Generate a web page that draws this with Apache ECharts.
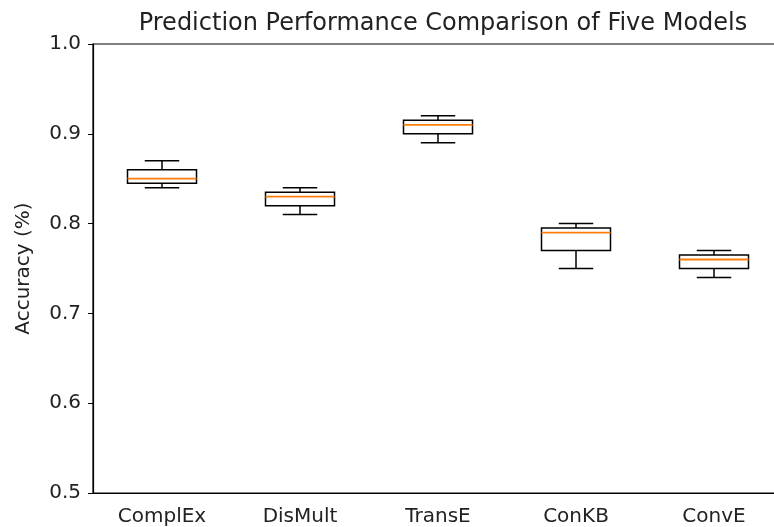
<!DOCTYPE html>
<html>
<head>
<meta charset="utf-8">
<script src="https://cdn.jsdelivr.net/npm/echarts@6/dist/echarts.min.js"></script>
<style>
    html, body { margin: 0; padding: 0; background: #fff; }
    #chart { width: 774px; height: 527px; }
</style>
</head>
<body>
<div id="chart"></div>
<script>
    // five models, box stats
    const models = ['ComplEx', 'DisMult', 'TransE', 'ConKB', 'ConvE']
    const mins = [0.84, 0.81, 0.89, 0.75, 0.74]
    const q1s = [0.845, 0.82, 0.90, 0.77, 0.75]
    const medians = [0.85, 0.83, 0.91, 0.79, 0.76]
    const q3s = [0.86, 0.835, 0.915, 0.795, 0.765]
    const maxs = [0.87, 0.84, 0.92, 0.80, 0.77]
    const yTicks = [0.5, 0.6, 0.7, 0.8, 0.9, 1.0]

    let boxData = models.map((m, i) => [i, mins[i], q1s[i], medians[i], q3s[i], maxs[i]])

    function renderBox (params, api) {
        let i = api.value(0)
        let band = api.size([1, 0])[0]
        let cx = api.coord([i, 0])[0]
        let hb = band * 0.25 // half box width
        let hc = band * 0.125 // half cap width
        let yMin = api.coord([i, api.value(1)])[1]
        let yQ1 = api.coord([i, api.value(2)])[1]
        let yMed = api.coord([i, api.value(3)])[1]
        let yQ3 = api.coord([i, api.value(4)])[1]
        let yMax = api.coord([i, api.value(5)])[1]
        let black = {stroke: '#000', lineWidth: 1.5, fill: null}
        return {
            type: 'group',
            children: [
                {type: 'rect', shape: {x: cx - hb, y: yQ3, width: hb * 2, height: yQ1 - yQ3}, style: black},
                {type: 'line', shape: {x1: cx, y1: yQ1, x2: cx, y2: yMin}, style: black},
                {type: 'line', shape: {x1: cx, y1: yQ3, x2: cx, y2: yMax}, style: black},
                {type: 'line', shape: {x1: cx - hc, y1: yMin, x2: cx + hc, y2: yMin}, style: black},
                {type: 'line', shape: {x1: cx - hc, y1: yMax, x2: cx + hc, y2: yMax}, style: black},
                {type: 'line', shape: {x1: cx - hb, y1: yMed, x2: cx + hb, y2: yMed}, style: {stroke: '#ff7f0e', lineWidth: 1.8}}
            ]
        }
    }

    let myChart = echarts.init(document.getElementById('chart'))
    let option = {
        animation: false,
        textStyle: {fontFamily: 'DejaVu Sans'},
        title: {
            text: 'Prediction Performance Comparison of Five Models',
            left: 438,
            top: 7,
            textAlign: 'center',
            textStyle: {fontSize: 24, fontWeight: 'normal', color: '#222', fontFamily: 'DejaVu Sans'}
        },
        grid: {
            left: 93,
            width: 690,
            top: 44,
            height: 449,
            outerBoundsMode: 'none',
            containLabel: false,
            show: true,
            borderColor: '#000',
            borderWidth: 1.2
        },
        xAxis: {
            type: 'category',
            data: models,
            boundaryGap: true,
            axisLine: {lineStyle: {color: '#000', width: 1.2}},
            axisTick: {alignWithLabel: true, length: 5, lineStyle: {color: '#000'}},
            axisLabel: {fontSize: 20, color: '#222', margin: 14},
            splitLine: {show: false}
        },
        yAxis: {
            type: 'value',
            min: yTicks[0],
            max: yTicks[yTicks.length - 1],
            interval: 0.1,
            name: 'Accuracy (%)',
            nameLocation: 'middle',
            nameGap: 59,
            nameTextStyle: {fontSize: 20, color: '#222'},
            axisLine: {show: true, lineStyle: {color: '#000', width: 1.2}},
            axisTick: {show: true, length: 5, lineStyle: {color: '#000'}},
            axisLabel: {fontSize: 20, color: '#222', margin: 12, formatter: v => v.toFixed(1)},
            splitLine: {show: false}
        },
        series: [
            {
                type: 'custom',
                renderItem: renderBox,
                encode: {x: 0, y: [1, 2, 3, 4, 5]},
                data: boxData
            }
        ]
    }
    myChart.setOption(option)
</script>
</body>
</html>
